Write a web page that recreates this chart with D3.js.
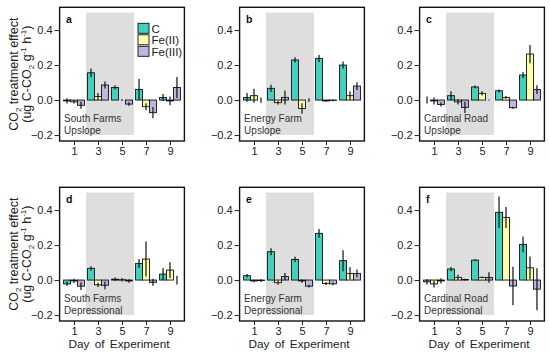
<!DOCTYPE html>
<html>
<head>
<meta charset="utf-8">
<script src="https://cdn.jsdelivr.net/npm/d3@7"></script>
<style>
  body { margin: 0; background: #fff; }
  text { font-family: "Liberation Sans", Arial, sans-serif; }
</style>
</head>
<body>
<div id="container"></div>
<script>
let w = 550;
let h = 356;

// data
let days = [1, 3, 5, 7, 9];
let treatments = ["C", "Fe(II)", "Fe(III)"];
let treatColors = ["#45CFBD", "#FFFFAE", "#BDB6E0"];
let yTicks = [-0.2, 0.0, 0.2, 0.4];
let xTicks = [1, 3, 5, 7, 9];

let panelLetters = ["a", "b", "c", "d", "e", "f"];
let siteNames = ["South Farms", "Energy Farm", "Cardinal Road", "South Farms", "Energy Farm", "Cardinal Road"];
let slopeNames = ["Upslope", "Upslope", "Upslope", "Depressional", "Depressional", "Depressional"];

// rows: C, Fe(II), Fe(III)
let meansA = [[-0.005, 0.156, 0.072, 0.061, 0.015], [-0.01, 0.02, 0.0, -0.038, -0.005], [-0.03, 0.086, -0.023, -0.072, 0.072]];
let errA = [[0.015, 0.025, 0.012, 0.06, 0.02], [0.01, 0.02, 0.005, 0.02, 0.025], [0.02, 0.02, 0.01, 0.032, 0.06]];

let meansB = [[0.015, 0.067, 0.229, 0.238, 0.2], [0.025, -0.015, -0.048, -0.005, 0.025], [0.0, 0.015, 0.0, -0.002, 0.08]];
let errB = [[0.025, 0.02, 0.015, 0.02, 0.02], [0.04, 0.01, 0.03, 0.005, 0.025], [0.015, 0.04, 0.01, 0.005, 0.022]];

let meansC = [[0.0, 0.025, 0.075, 0.053, 0.143], [-0.005, -0.01, 0.038, 0.015, 0.263], [-0.025, -0.042, 0.0, -0.044, 0.06]];
let errC = [[0.02, 0.025, 0.008, 0.008, 0.018], [0.02, 0.015, 0.012, 0.008, 0.052], [0.012, 0.032, 0.003, 0.006, 0.025]];

let meansD = [[-0.022, 0.067, 0.005, 0.095, 0.034], [-0.005, -0.027, 0.002, 0.12, 0.057], [-0.035, -0.03, -0.005, -0.013, 0.0]];
let errD = [[0.012, 0.012, 0.01, 0.025, 0.035], [0.012, 0.012, 0.01, 0.1, 0.045], [0.022, 0.022, 0.01, 0.02, 0.025]];

let meansE = [[0.025, 0.162, 0.118, 0.267, 0.111], [-0.005, -0.015, -0.005, -0.02, 0.038], [-0.003, 0.02, -0.035, -0.022, 0.038]];
let errE = [[0.01, 0.02, 0.015, 0.025, 0.06], [0.008, 0.012, 0.01, 0.008, 0.035], [0.008, 0.02, 0.008, 0.008, 0.022]];

let meansF = [[-0.01, 0.063, 0.114, 0.387, 0.204], [-0.022, 0.015, 0.015, 0.358, 0.07], [-0.005, 0.003, 0.015, -0.034, -0.052]];
let errF = [[0.015, 0.012, 0.005, 0.09, 0.045], [0.02, 0.015, 0.005, 0.06, 0.065], [0.015, 0.005, 0.03, 0.11, 0.12]];

let allMeans = [meansA, meansB, meansC, meansD, meansE, meansF];
let allErr = [errA, errB, errC, errD, errE, errF];

let viz = d3.select("#container")
  .append("svg")
    .attr("width", w)
    .attr("height", h)
    .style("background-color", "#FFFFFF");

// one panel box, all panels share the same inner coordinates
let x = d3.scaleLinear().domain([-0.2, 10.2]).range([59.6, 184.4]);
let y = d3.scaleLinear().domain([-0.234, 0.53]).range([141, 7.3]);
let barW = 0.58;

for (let p = 0; p < 6; p++) {
  let col = p % 3;
  let row = Math.floor(p / 3);
  let g = viz.append("g").attr("transform", "translate(" + (col * 180) + "," + (row * 180) + ")");

  // grey shading days 2-6
  g.append("rect")
    .attr("x", x(2))
    .attr("y", y(0.5))
    .attr("width", x(6) - x(2))
    .attr("height", y(-0.2) - y(0.5))
    .attr("fill", "#DEDEDE");

  let rows = [];
  for (let t = 0; t < 3; t++) {
    for (let i = 0; i < days.length; i++) {
      rows.push({t: t, day: days[i], m: allMeans[p][t][i], e: allErr[p][t][i]});
    }
  }

  g.selectAll(".bar")
    .data(rows)
    .enter()
    .append("rect")
      .attr("class", "bar")
      .attr("x", d => x(d.day + (d.t - 1) * barW - barW / 2))
      .attr("width", x(barW) - x(0))
      .attr("y", d => y(Math.max(0, d.m)))
      .attr("height", d => Math.abs(y(d.m) - y(0)))
      .attr("fill", d => treatColors[d.t])
      .attr("stroke", "#111")
      .attr("stroke-width", 0.9);

  g.selectAll(".err")
    .data(rows)
    .enter()
    .append("line")
      .attr("class", "err")
      .attr("x1", d => x(d.day + (d.t - 1) * barW))
      .attr("x2", d => x(d.day + (d.t - 1) * barW))
      .attr("y1", d => y(d.m - d.e))
      .attr("y2", d => y(d.m + d.e))
      .attr("stroke", "#111")
      .attr("stroke-width", 1.2);

  // axes
  let yAxis = g.append("g")
    .attr("transform", "translate(" + x.range()[0] + ",0)")
    .call(d3.axisLeft(y).tickValues(yTicks).tickFormat(d3.format(".1f")).tickSize(5).tickPadding(2));
  yAxis.select(".domain").remove();
  yAxis.selectAll("text").attr("font-size", 11).attr("fill", "#222")
    .style("font-family", "'Liberation Sans', Arial, sans-serif");
  yAxis.selectAll("line").attr("stroke", "#222");

  let xAxis = g.append("g")
    .attr("transform", "translate(0," + y.range()[0] + ")")
    .call(d3.axisBottom(x).tickValues(xTicks).tickSize(4).tickPadding(2));
  xAxis.select(".domain").remove();
  xAxis.selectAll("text").attr("font-size", 11).attr("fill", "#222")
    .style("font-family", "'Liberation Sans', Arial, sans-serif");
  xAxis.selectAll("line").attr("stroke", "#222");

  // frame
  g.append("rect")
    .attr("x", x.range()[0])
    .attr("y", y.range()[1])
    .attr("width", x.range()[1] - x.range()[0])
    .attr("height", y.range()[0] - y.range()[1])
    .attr("fill", "none")
    .attr("stroke", "#111")
    .attr("stroke-width", 1.4);

  // panel letter
  g.append("text")
    .attr("x", x.range()[0] + 6.5)
    .attr("y", y.range()[1] + 16)
    .attr("font-size", 10.5)
    .attr("font-weight", "bold")
    .attr("fill", "#111")
    .text(panelLetters[p]);

  // site label
  g.append("text")
    .attr("x", x.range()[0] + 4.5)
    .attr("y", 121.5)
    .attr("font-size", 10)
    .attr("fill", "#333")
    .text(siteNames[p]);
  g.append("text")
    .attr("x", x.range()[0] + 4.5)
    .attr("y", 133.5)
    .attr("font-size", 10)
    .attr("fill", "#333")
    .text(slopeNames[p]);

  // y title only on left column
  if (col == 0) {
    let cy = (y.range()[0] + y.range()[1]) / 2;
    let t1 = g.append("text")
      .attr("transform", "translate(18," + cy + ") rotate(-90)")
      .attr("text-anchor", "middle")
      .attr("font-size", 12.5)
      .attr("fill", "#222");
    t1.append("tspan").text("CO");
    t1.append("tspan").attr("font-size", 8).attr("dy", 3).text("2");
    t1.append("tspan").attr("dy", -3).text(" treatment effect");

    let t2 = g.append("text")
      .attr("transform", "translate(31," + cy + ") rotate(-90)")
      .attr("text-anchor", "middle")
      .attr("font-size", 12.5)
      .attr("fill", "#222");
    t2.append("tspan").text("(ug C-CO");
    t2.append("tspan").attr("font-size", 8).attr("dy", 3).text("2");
    t2.append("tspan").attr("dy", -3).text(" g");
    t2.append("tspan").attr("font-size", 8).attr("dy", -5).text("-1");
    t2.append("tspan").attr("dy", 5).text(" h");
    t2.append("tspan").attr("font-size", 8).attr("dy", -5).text("-1");
    t2.append("tspan").attr("dy", 5).text(")");
  }

  // x title only on bottom row
  if (row == 1) {
    g.append("text")
      .attr("x", (x.range()[0] + x.range()[1]) / 2 - 3)
      .attr("y", 167.5)
      .attr("text-anchor", "middle")
      .attr("font-size", 11.8)
      .attr("fill", "#222")
      .attr("word-spacing", 2)
      .text("Day of Experiment");
  }

  // legend in panel a
  if (p == 0) {
    let leg = g.selectAll(".leg")
      .data(treatments)
      .enter()
      .append("g")
        .attr("class", "leg")
        .attr("transform", (d, i) => "translate(138," + (23.3 + i * 11.5) + ")");
    leg.append("rect")
      .attr("width", 11)
      .attr("height", 10)
      .attr("fill", (d, i) => treatColors[i])
      .attr("stroke", "#111")
      .attr("stroke-width", 0.9);
    leg.append("text")
      .attr("x", 13.5)
      .attr("y", 9.5)
      .attr("font-size", 11.5)
      .attr("fill", "#222")
      .text(d => d);
  }
}
</script>
</body>
</html>
